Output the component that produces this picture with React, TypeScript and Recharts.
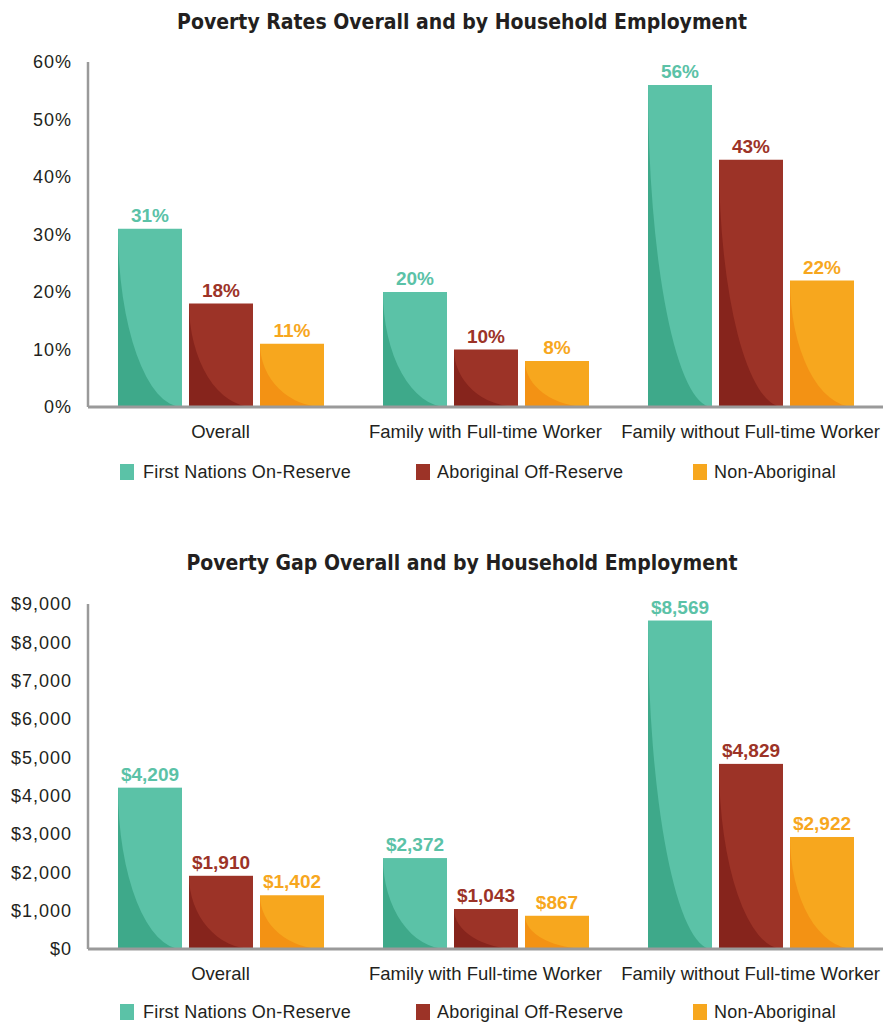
import React from 'react';
import { BarChart, Bar, XAxis, YAxis, LabelList } from 'recharts';

const categories = ['Overall', 'Family with Full-time Worker', 'Family without Full-time Worker'];
const seriesNames = ['First Nations On-Reserve', 'Aboriginal Off-Reserve', 'Non-Aboriginal'];

// poverty rates, %
const rateFirstNations = [31, 20, 56];
const rateAboriginalOff = [18, 10, 43];
const rateNonAboriginal = [11, 8, 22];
const rateTicks = [0, 10, 20, 30, 40, 50, 60];

// poverty gap, $
const gapFirstNations = [4209, 2372, 8569];
const gapAboriginalOff = [1910, 1043, 4829];
const gapNonAboriginal = [1402, 867, 2922];
const gapTicks = [0, 1000, 2000, 3000, 4000, 5000, 6000, 7000, 8000, 9000];

const colors = ['#5BC2A7', '#9C3327', '#F7A71E'];
const darkColors = ['#3EA98A', '#86241C', '#F39214'];
const keys = ['fn', 'ab', 'na'];

const font = '"Liberation Sans", Arial, sans-serif';
const textColor = '#231F20';
const axisColor = '#9A9A9A';

const rateData = categories.map((c, i) => ({
    name: c,
    fn: rateFirstNations[i],
    ab: rateAboriginalOff[i],
    na: rateNonAboriginal[i],
}));

const gapData = categories.map((c, i) => ({
    name: c,
    fn: gapFirstNations[i],
    ab: gapAboriginalOff[i],
    na: gapNonAboriginal[i],
}));

const money = (v: number) => '$' + v.toLocaleString('en-US');
const pct = (v: number) => v + '%';

// bar with the darker swoosh in the lower left corner
const CurvedBar = (props: any) => {
    const { x, y, width, height, fill, dark } = props;
    if (!height || height <= 0) return null;
    const d = `M${x},${y} A${width},${height} 0 0 0 ${x + width},${y + height} L${x},${y + height} Z`;
    return (
        <g>
            <rect x={x} y={y} width={width} height={height} fill={fill} />
            <path d={d} fill={dark} />
        </g>
    );
};

const Legend = ({ top }: { top: number }) => {
    const lefts = [120, 416, 693];
    return (
        <>
            {seriesNames.map((n, i) => (
                <div
                    key={n}
                    style={{
                        position: 'absolute',
                        left: lefts[i],
                        top: top - 9,
                        height: 18,
                        display: 'flex',
                        alignItems: 'center',
                        fontFamily: font,
                        fontSize: 18,
                        letterSpacing: 0.2,
                        color: textColor,
                        whiteSpace: 'nowrap',
                    }}
                >
                    <span style={{ width: 14, height: 16, background: colors[i], marginRight: i === 0 ? 9 : 7, display: 'inline-block' }} />
                    {n}
                </div>
            ))}
        </>
    );
};

const Title = ({ top, text }: { top: number; text: string }) => (
    <div
        style={{
            position: 'absolute',
            left: 0,
            width: 924,
            top: top - 13,
            textAlign: 'center',
            fontFamily: '"Liberation Sans Narrow", "DejaVu Sans Condensed", sans-serif',
            fontWeight: 'bold',
            fontSize: 21,
            lineHeight: '26px',
            color: textColor,
        }}
    >
        {text}
    </div>
);

const Chart = ({ data, ticks, max, fmt }: { data: any[]; ticks: number[]; max: number; fmt: (v: number) => string }) => (
    <BarChart
        width={887}
        height={450}
        data={data}
        margin={{ top: 62, right: 4, left: 0, bottom: 0 }}
        barCategoryGap={30}
        barGap={7}
    >
        <XAxis
            dataKey="name"
            interval={0}
            tickLine={false}
            tickMargin={12}
            height={43}
            axisLine={{ stroke: axisColor, strokeWidth: 3 }}
            tick={{ fontSize: 18.5, fill: textColor, fontFamily: font }}
        />
        <YAxis
            width={88}
            domain={[0, max]}
            ticks={ticks}
            tickFormatter={fmt}
            tickLine={false}
            tickMargin={10}
            axisLine={{ stroke: axisColor, strokeWidth: 2.5 }}
            tick={{ fontSize: 18, fill: textColor, fontFamily: font, letterSpacing: 1 }}
        />
        {keys.map((k, i) => (
            <Bar
                key={k}
                dataKey={k}
                fill={colors[i]}
                isAnimationActive={false}
                shape={(p: any) => <CurvedBar {...p} fill={colors[i]} dark={darkColors[i]} />}
            >
                <LabelList
                    dataKey={k}
                    position="top"
                    offset={7}
                    formatter={(v: any) => fmt(Number(v))}
                    style={{ fill: colors[i], fontWeight: 'bold', fontSize: 19, fontFamily: font }}
                />
            </Bar>
        ))}
    </BarChart>
);

export default function App() {
    return (
        <div style={{ position: 'absolute', left: 0, top: 0, width: 887, height: 1024, background: '#fff' }}>
            <Title top={22} text="Poverty Rates Overall and by Household Employment" />
            <div style={{ position: 'absolute', left: 0, top: 0 }}>
                <Chart data={rateData} ticks={rateTicks} max={60} fmt={pct} />
            </div>
            <Legend top={472} />

            <Title top={563} text="Poverty Gap Overall and by Household Employment" />
            <div style={{ position: 'absolute', left: 0, top: 542 }}>
                <Chart data={gapData} ticks={gapTicks} max={9000} fmt={money} />
            </div>
            <Legend top={1012} />
        </div>
    );
}
